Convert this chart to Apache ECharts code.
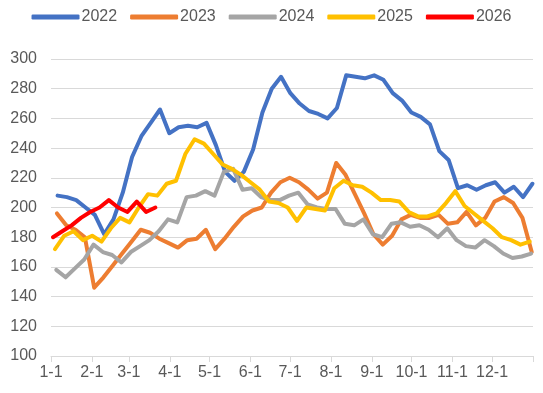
<!DOCTYPE html>
<html>
<head>
<meta charset="utf-8">
<script src="https://cdn.jsdelivr.net/npm/echarts@6/dist/echarts.min.js"></script>
<style>
html,body{margin:0;padding:0;background:#fff;}
#chart{width:543px;height:393px;}
</style>
</head>
<body>
<div id="chart"></div>
<script>
// Month tick labels and their day-of-year positions
const monthLabels = ['1-1','2-1','3-1','4-1','5-1','6-1','7-1','8-1','9-1','10-1','11-1','12-1'];
const monthStartDays = [0,31,59,90,120,151,181,212,243,273,304,334];
const yearEndDay = 365;

const seriesNames = ['2022','2023','2024','2025','2026'];
const seriesColors = ['#4472C4','#ED7D31','#A5A5A5','#FFC000','#FF0000'];

// Weekly values (one per week, starting in the first week of January)
const v2022 = [208,207,205,200,195,182,192,210,234,248,257,266,250,254,255,254,257,242,224,218,224,239,264,280,288,277,270,265,263,260,267,289,288,287,289,286,277,272,264,261,256,238,232,213,215,212,215,217,210,214,207,216];
const v2023 = [196,188,185,180,146,153,161,169,177,185,183,179,176,173,178,179,185,172,179,187,194,198,200,210,217,220,217,212,206,210,230,222,209,196,182,175,181,192,195,193,193,195,189,190,197,188,193,204,207,203,193,170];
const v2024 = [158,153,159,165,175,170,168,163,170,174,178,184,192,190,207,208,211,208,224,226,212,213,207,205,205,208,210,202,200,199,199,189,188,192,182,180,189,190,187,188,185,180,186,178,174,173,178,174,169,166,167,169];
const v2025 = [172,181,184,178,181,177,186,193,190,200,209,208,216,218,236,246,243,236,229,226,222,217,212,204,203,200,191,200,199,198,213,218,215,214,210,205,205,204,197,194,194,196,203,211,201,196,191,186,180,178,175,177];
const v2026 = [180,184,188,193,197,200,205,200,197,204,197,200];
const allValues = [v2022, v2023, v2024, v2025, v2026];
// first-week day offsets per year (dates of the weekly observations)
const firstWeekDay = [5, 4.5, 4, 3, 1.5];
const weekStep = 7.05;

const chart = echarts.init(document.getElementById('chart'));
const series = allValues.map((vals, k) => ({
  name: seriesNames[k],
  type: 'line',
  showSymbol: false,
  symbol: 'none',
  smooth: false,
  color: seriesColors[k],
  lineStyle: { width: 4, color: seriesColors[k], cap: 'round', join: 'round' },
  data: vals.map((v, i) => [firstWeekDay[k] + i * weekStep, v]),
  z: 2 + k
}));

const font = '"Liberation Sans", Arial, sans-serif';
chart.setOption({
  animation: false,
  backgroundColor: '#fff',
  textStyle: { fontFamily: font },
  legend: {
    top: 4,
    left: 'center',
    itemWidth: 48,
    itemHeight: 5,
    itemGap: 13,
    icon: 'roundRect',
    textStyle: { fontSize: 16, color: '#595959', fontFamily: font, padding: [0,0,0,-3] },
    data: seriesNames
  },
  grid: { left: 51, right: 10, top: 59, bottom: 37, containLabel: false },
  xAxis: {
    type: 'value',
    min: 0,
    max: yearEndDay,
    splitLine: { show: false },
    axisLine: { show: true, lineStyle: { color: '#D9D9D9', width: 1 } },
    axisTick: { show: true, length: 6, lineStyle: { color: '#D9D9D9' }, customValues: monthStartDays.concat([yearEndDay]) },
    axisLabel: {
      fontSize: 16, color: '#595959', fontFamily: font, margin: 9,
      customValues: monthStartDays,
      formatter: function (val) {
        const idx = monthStartDays.indexOf(Math.round(val));
        return idx >= 0 ? monthLabels[idx] : '';
      }
    }
  },
  yAxis: {
    type: 'value',
    min: 100,
    max: 300,
    interval: 20,
    axisLine: { show: false },
    axisTick: { show: false },
    splitLine: { lineStyle: { color: '#D9D9D9', width: 1 } },
    axisLabel: { fontSize: 16, color: '#595959', fontFamily: font, margin: 14 }
  },
  series: series
});
</script>
</body>
</html>
